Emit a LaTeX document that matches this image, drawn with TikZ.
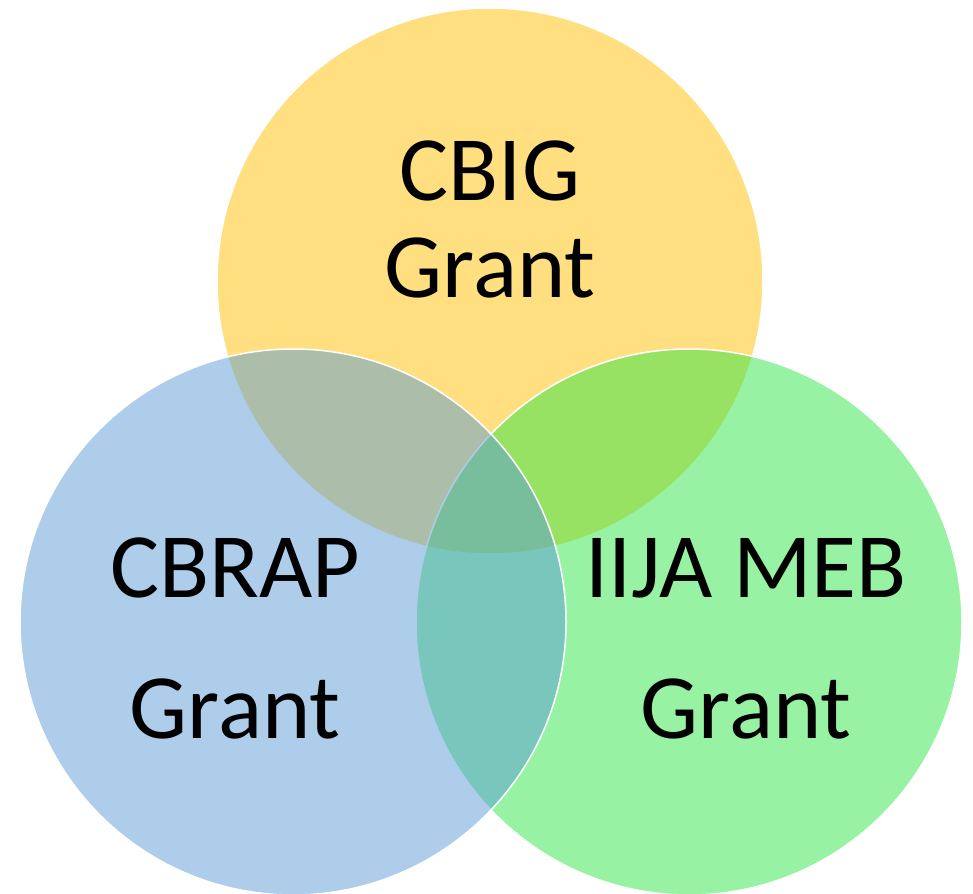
\documentclass[tikz,border=0pt]{standalone}
\usepackage{fontspec}
\setmainfont{Carlito}
\usepackage{tikz}
\definecolor{cbig}{RGB}{255,192,0}
\definecolor{cbrap}{RGB}{91,155,213}
\definecolor{iija}{RGB}{50,230,72}

\begin{document}
\begin{tikzpicture}[x=1pt, y=1pt, scale=1.0, rotate = 180, xscale = -1,
  venn/.style={circle, draw=white, line width=1.5pt, fill opacity=0.5, minimum size=546pt, inner sep=0pt},
  lbl/.style={align=center, anchor=base, font=\fontsize{92}{97}\selectfont}]
\useasboundingbox (0,0) rectangle (973,893);
\node[venn, fill=cbig] (1) at (490, 281) {};
\node[venn, fill=iija] (3) at (689, 622) {};
\node[venn, fill=cbrap] (2) at (293, 622) {};
%\node[venn, fill=cbrap] (2) at (279, 620) {};
\node[lbl] (4) at (490, 297) {CBIG\\Grant};
\node[lbl] (5) at (235, 738) {CBRAP\\[44pt]Grant};
\node[lbl] (6) at (746, 738) {IIJA MEB\\[44pt]Grant};
\end{tikzpicture}
\end{document}
